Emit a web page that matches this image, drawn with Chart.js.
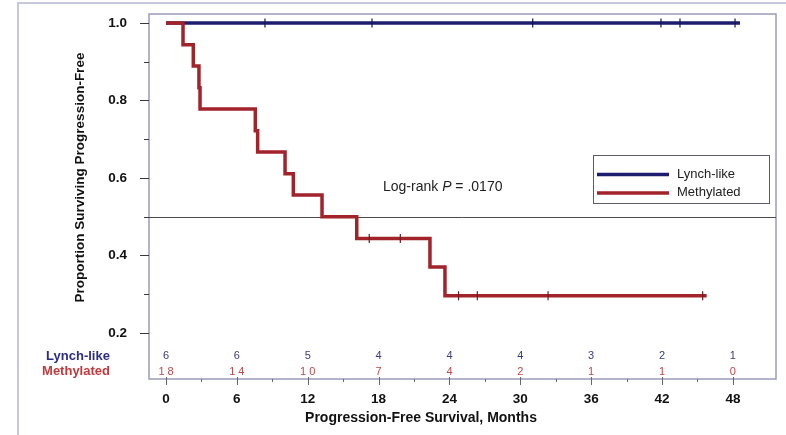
<!DOCTYPE html>
<html>
<head>
<meta charset="utf-8">
<title>Progression-Free Survival</title>
<script src="https://cdn.jsdelivr.net/npm/chart.js@4"></script>
<style>
  html, body { margin: 0; padding: 0; background: #ffffff; }
  canvas { display: block; }
</style>
</head>
<body>
<canvas id="km" width="786" height="435"></canvas>
<script>
// Kaplan-Meier step curves (time in months, proportion progression-free after each step)
const lynchTimes = [0, 48.6];
const lynchSurv  = [1.0, 1.0];
const methTimes  = [0, 1.44, 2.31, 2.79, 2.88, 7.56, 7.76, 10.08, 10.78, 13.21, 16.15, 22.35, 23.62, 45.78];
const methSurv   = [1.0, 0.944, 0.889, 0.833, 0.778, 0.722, 0.667, 0.611, 0.556, 0.5, 0.444, 0.370, 0.296, 0.296];

// Censored observations (tick marks on the curves)
const lynchCensorTimes = [8.38, 17.44, 31.05, 41.91, 43.52, 48.18];
const lynchCensorSurv  = [1.0, 1.0, 1.0, 1.0, 1.0, 1.0];
const methCensorTimes  = [17.21, 19.84, 24.77, 26.36, 32.35, 45.44];
const methCensorSurv   = [0.444, 0.444, 0.296, 0.296, 0.296, 0.296];

// Number at risk table
const riskTimes   = [0, 6, 12, 18, 24, 30, 36, 42, 48];
const lynchAtRisk = [6, 6, 5, 4, 4, 4, 3, 2, 1];
const methAtRisk  = [18, 14, 10, 7, 4, 2, 1, 1, 0];

// Axis ticks
const xMajorTicks = [0, 6, 12, 18, 24, 30, 36, 42, 48];
const xMinorTicks = [3, 9, 15, 21, 27, 33, 39, 45];
const yMajorTicks = [0.2, 0.4, 0.6, 0.8, 1.0];
const yMinorTicks = [0.3, 0.5, 0.7, 0.9];
const medianLine  = 0.5;

const seriesNames = ['Lynch-like', 'Methylated'];
const logRankP = '.0170';

const NAVY = '#1d1d6e';
const RED = '#a3232b';
const FONT = '"Liberation Sans", Arial, sans-serif';

const toPoints = (xs, ys) => xs.map((x, i) => ({ x: x, y: ys[i] }));

const kmDecor = {
  id: 'kmDecor',
  beforeDraw(chart) {
    const ctx = chart.ctx;
    ctx.save();
    ctx.fillStyle = '#ffffff';
    ctx.fillRect(0, 0, chart.width, chart.height);
    // outer panel frame
    ctx.strokeStyle = '#c6c6de';
    ctx.lineWidth = 2;
    ctx.beginPath();
    ctx.moveTo(18, chart.height);
    ctx.lineTo(18, 3);
    ctx.lineTo(chart.width, 3);
    ctx.stroke();
    ctx.restore();
  },
  beforeDatasetsDraw(chart) {
    const { ctx, chartArea: a, scales: { x, y } } = chart;
    ctx.save();
    // plot frame
    ctx.strokeStyle = '#9a9abb';
    ctx.lineWidth = 1.5;
    ctx.strokeRect(a.left, a.top, a.right - a.left, a.bottom - a.top);
    // median reference line
    const ym = Math.round(y.getPixelForValue(medianLine)) + 0.5;
    ctx.strokeStyle = '#4a4a4a';
    ctx.lineWidth = 1;
    ctx.beginPath();
    ctx.moveTo(a.left, ym);
    ctx.lineTo(a.right, ym);
    ctx.stroke();
    // y tick marks
    ctx.strokeStyle = '#3a3a3a';
    ctx.lineWidth = 1;
    yMajorTicks.forEach(v => {
      const p = Math.round(y.getPixelForValue(v)) + 0.5;
      ctx.beginPath(); ctx.moveTo(a.left - 9, p); ctx.lineTo(a.left, p); ctx.stroke();
    });
    yMinorTicks.forEach(v => {
      const p = Math.round(y.getPixelForValue(v)) + 0.5;
      ctx.beginPath(); ctx.moveTo(a.left - 5, p); ctx.lineTo(a.left, p); ctx.stroke();
    });
    // x tick marks
    ctx.strokeStyle = '#666677';
    xMajorTicks.forEach(v => {
      const p = Math.round(x.getPixelForValue(v)) + 0.5;
      ctx.beginPath(); ctx.moveTo(p, a.bottom - 2); ctx.lineTo(p, a.bottom + 6); ctx.stroke();
    });
    xMinorTicks.forEach(v => {
      const p = Math.round(x.getPixelForValue(v)) + 0.5;
      ctx.beginPath(); ctx.moveTo(p, a.bottom); ctx.lineTo(p, a.bottom + 3); ctx.stroke();
    });
    ctx.restore();
  },
  afterDatasetsDraw(chart) {
    const { ctx, chartArea: a, scales: { x, y } } = chart;
    ctx.save();
    ctx.textBaseline = 'middle';

    // number at risk
    ctx.textAlign = 'center';
    ctx.font = '11px ' + FONT;
    riskTimes.forEach((t, i) => {
      const px = x.getPixelForValue(t);
      ctx.fillStyle = '#3b3b82';
      ctx.letterSpacing = '0px';
      ctx.fillText(String(lynchAtRisk[i]), px, 356);
      ctx.fillStyle = '#c0474a';
      ctx.letterSpacing = '3px';
      ctx.fillText(String(methAtRisk[i]), px + 1.5, 371.5);
    });
    ctx.letterSpacing = '0px';

    // row labels
    ctx.font = 'bold 13px ' + FONT;
    ctx.fillStyle = '#2c2c86';
    ctx.fillText(seriesNames[0], 78, 356);
    ctx.fillStyle = '#c0393b';
    ctx.fillText(seriesNames[1], 76, 371.5);

    // axis titles
    ctx.fillStyle = '#111111';
    ctx.font = 'bold 14px ' + FONT;
    ctx.fillText('Progression-Free Survival, Months', 421, 418.5);
    ctx.save();
    ctx.translate(80, 177.5);
    ctx.rotate(-Math.PI / 2);
    ctx.font = 'bold 13.5px ' + FONT;
    ctx.fillText('Proportion Surviving Progression-Free', 0, 0);
    ctx.restore();

    // log-rank annotation
    ctx.textAlign = 'left';
    ctx.font = '14px ' + FONT;
    ctx.fillStyle = '#222222';
    let tx = 383;
    const part1 = 'Log-rank ';
    ctx.fillText(part1, tx, 187);
    tx += ctx.measureText(part1).width;
    ctx.font = 'italic 14px ' + FONT;
    ctx.fillText('P', tx, 187);
    tx += ctx.measureText('P').width;
    ctx.font = '14px ' + FONT;
    ctx.fillText(' = ' + logRankP, tx, 187);

    // legend
    ctx.fillStyle = '#ffffff';
    ctx.fillRect(593, 155.5, 176, 48);
    ctx.strokeStyle = '#5a5a6a';
    ctx.lineWidth = 1;
    ctx.strokeRect(593.5, 155.5, 176, 48);
    ctx.lineWidth = 3.5;
    ctx.strokeStyle = NAVY;
    ctx.beginPath(); ctx.moveTo(597, 174.5); ctx.lineTo(669, 174.5); ctx.stroke();
    ctx.strokeStyle = RED;
    ctx.beginPath(); ctx.moveTo(597, 193); ctx.lineTo(669, 193); ctx.stroke();
    ctx.fillStyle = '#222222';
    ctx.font = '13px ' + FONT;
    ctx.fillText(seriesNames[0], 677, 174);
    ctx.fillText(seriesNames[1], 677, 192.5);
    ctx.restore();
  }
};

new Chart(document.getElementById('km'), {
  type: 'scatter',
  data: {
    datasets: [
      {
        label: seriesNames[0] + ' censored',
        data: toPoints(lynchCensorTimes, lynchCensorSurv),
        showLine: false,
        pointStyle: 'line',
        rotation: 90,
        pointRadius: 4.5,
        pointBorderWidth: 1.2,
        pointBorderColor: '#15154f',
        order: 0
      },
      {
        label: seriesNames[1] + ' censored',
        data: toPoints(methCensorTimes, methCensorSurv),
        showLine: false,
        pointStyle: 'line',
        rotation: 90,
        pointRadius: 4.5,
        pointBorderWidth: 1.2,
        pointBorderColor: '#6e1a1e',
        order: 0
      },
      {
        label: seriesNames[1],
        data: toPoints(methTimes, methSurv),
        showLine: true,
        stepped: 'before',
        borderColor: RED,
        borderWidth: 3.5,
        pointRadius: 0,
        order: 1
      },
      {
        label: seriesNames[0],
        data: toPoints(lynchTimes, lynchSurv),
        showLine: true,
        stepped: 'before',
        borderColor: NAVY,
        borderWidth: 3.5,
        pointRadius: 0,
        order: 2
      }
    ]
  },
  options: {
    responsive: false,
    animation: false,
    devicePixelRatio: 1,
    layout: { padding: { top: 14, right: 10, left: 0, bottom: 0 } },
    plugins: {
      legend: { display: false },
      tooltip: { enabled: false }
    },
    scales: {
      x: {
        type: 'linear',
        min: -1.44,
        max: 51.65,
        afterFit: s => { s.height = 56; s.paddingLeft = 0; s.paddingRight = 0; },
        afterBuildTicks: s => { s.ticks = xMajorTicks.map(v => ({ value: v })); },
        grid: { display: false, drawTicks: false },
        border: { display: false },
        ticks: {
          autoSkip: false,
          maxRotation: 0,
          padding: 12,
          color: '#111111',
          font: { family: FONT, size: 13.5, weight: 'bold' },
          callback: v => String(v)
        }
      },
      y: {
        type: 'linear',
        min: 0.0813,
        max: 1.0232,
        afterFit: s => { s.width = 149; s.paddingTop = 0; s.paddingBottom = 0; },
        afterBuildTicks: s => { s.ticks = yMajorTicks.map(v => ({ value: v })); },
        grid: { display: false, drawTicks: false },
        border: { display: false },
        ticks: {
          padding: 22,
          color: '#111111',
          font: { family: FONT, size: 13.5, weight: 'bold' },
          callback: v => Number(v).toFixed(1)
        }
      }
    }
  },
  plugins: [kmDecor]
});
</script>
</body>
</html>
